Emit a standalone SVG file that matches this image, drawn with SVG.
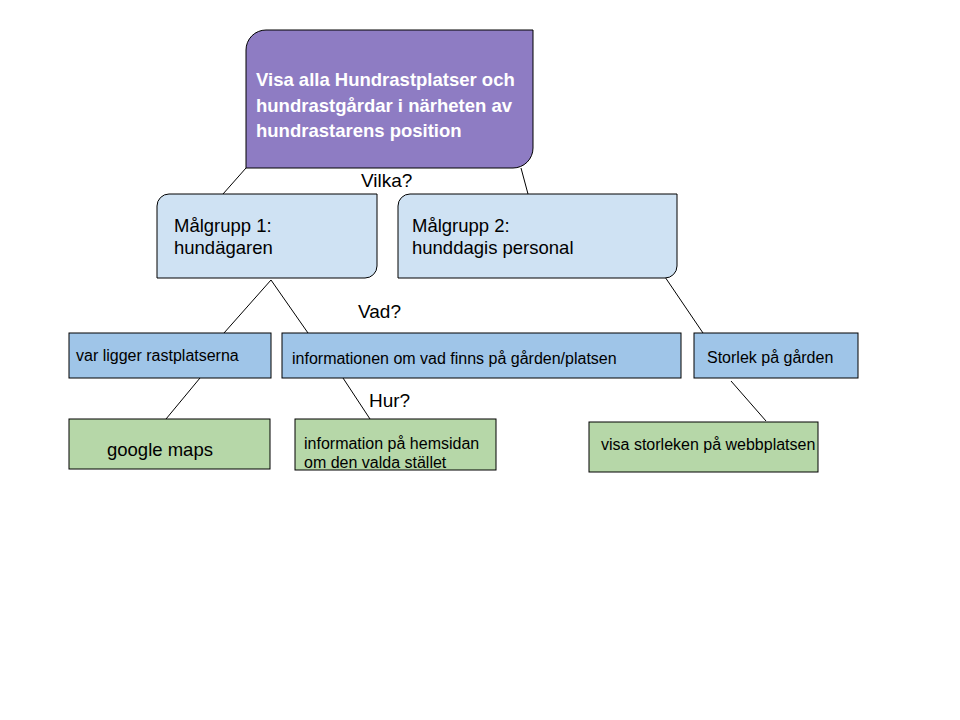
<svg xmlns="http://www.w3.org/2000/svg" width="960" height="720" viewBox="0 0 960 720">
<style>
.b{stroke:#000;stroke-width:1}
.t{font-family:"Liberation Sans",Arial,sans-serif;fill:#000}
.l{stroke:#000;stroke-width:1;fill:none}
</style>
<rect width="960" height="720" fill="#fff"/>
<g id="connectors">
<line class="l" x1="246" y1="168" x2="223" y2="194"/>
<line class="l" x1="521" y1="168" x2="528" y2="194"/>
<line class="l" x1="271" y1="280" x2="224" y2="333"/>
<line class="l" x1="271" y1="280" x2="308" y2="333"/>
<line class="l" x1="665" y1="277" x2="703" y2="333"/>
<line class="l" x1="200" y1="378" x2="166" y2="419"/>
<line class="l" x1="343" y1="378" x2="370" y2="419"/>
<line class="l" x1="731" y1="381" x2="766" y2="421"/>
</g>
<g id="top">
<path class="b" fill="#8e7cc3" d="M266,30 H533 V148 A20,20 0 0 1 513,168 H246 V50 A20,20 0 0 1 266,30 Z"/>
<text class="t" font-size="18.5" font-weight="bold" style="fill:#fff"><tspan x="256" y="86">Visa alla Hundrastplatser och</tspan><tspan x="256" y="112">hundrastgårdar i närheten av</tspan><tspan x="256" y="137">hundrastarens position</tspan></text>
</g>
<text class="t" x="361" y="187" font-size="19">Vilka?</text>
<g id="mg1">
<path class="b" fill="#cfe2f3" d="M169,194 H377 V266 A12,12 0 0 1 365,278 H157 V206 A12,12 0 0 1 169,194 Z"/>
<text class="t" font-size="18.5"><tspan x="174" y="232">Målgrupp 1:</tspan><tspan x="174" y="254">hundägaren</tspan></text>
</g>
<g id="mg2">
<path class="b" fill="#cfe2f3" d="M410,194 H677 V266 A12,12 0 0 1 665,278 H398 V206 A12,12 0 0 1 410,194 Z"/>
<text class="t" font-size="18.5"><tspan x="412" y="232">Målgrupp 2:</tspan><tspan x="412" y="254">hunddagis personal</tspan></text>
</g>
<text class="t" x="358" y="318" font-size="19">Vad?</text>
<g id="var">
<rect class="b" fill="#9fc5e8" x="69" y="333" width="202" height="45"/>
<text class="t" x="76" y="361" font-size="16">var ligger rastplatserna</text>
</g>
<g id="info">
<rect class="b" fill="#9fc5e8" x="282" y="333" width="399" height="45"/>
<text class="t" x="292" y="364" font-size="16">informationen om vad finns på gården/platsen</text>
</g>
<g id="storlek">
<rect class="b" fill="#9fc5e8" x="694" y="333" width="164" height="45"/>
<text class="t" x="707" y="363" font-size="16">Storlek på gården</text>
</g>
<text class="t" x="369" y="407" font-size="19">Hur?</text>
<g id="google">
<rect class="b" fill="#b6d7a8" x="69" y="419" width="201" height="50"/>
<text class="t" x="107" y="456" font-size="18.5">google maps</text>
</g>
<g id="hemsidan">
<rect class="b" fill="#b6d7a8" x="295" y="419" width="201" height="51"/>
<text class="t" font-size="16"><tspan x="304" y="449">information på hemsidan</tspan><tspan x="304" y="468">om den valda stället</tspan></text>
</g>
<g id="visa">
<rect class="b" fill="#b6d7a8" x="589" y="422" width="229" height="50"/>
<text class="t" x="601" y="450" font-size="16">visa storleken på webbplatsen</text>
</g>
</svg>
